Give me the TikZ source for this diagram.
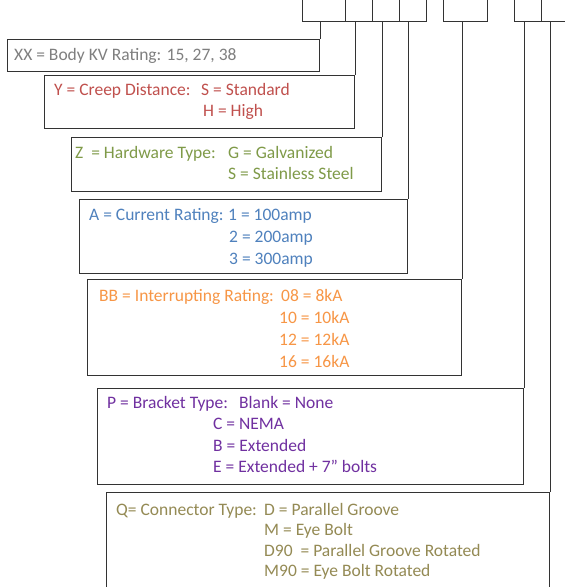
\documentclass[tikz,border=0pt]{standalone}
\usepackage{fontspec}
\setmainfont{Carlito}
\definecolor{linec}{HTML}{333333}
\definecolor{cxx}{HTML}{7F7F7F}
\definecolor{cy}{HTML}{C0504D}
\definecolor{cz}{HTML}{7F9A48}
\definecolor{ca}{HTML}{4F81BD}
\definecolor{cbb}{HTML}{F79646}
\definecolor{cp}{HTML}{7030A0}
\definecolor{cq}{HTML}{948A54}
\tikzset{
  topbox/.style={draw=linec, line width=1.3pt, rectangle, inner sep=0pt, anchor=south west, minimum height=40},
  descbox/.style={draw=linec, line width=1.3pt, rectangle, inner sep=0pt, anchor=north west},
  conn/.style={draw=linec, line width=1.3pt},
  lbl/.style={anchor=base west, inner sep=0pt, font=\fontsize{17.5}{21}\selectfont},
}
\begin{document}
\begin{tikzpicture}[x=1pt,y=-1pt]
\useasboundingbox (0,0) rectangle (565,587);
\clip (0,0) rectangle (565,587);
\fill[white] (0,0) rectangle (565,587);
% top code boxes
\node[topbox, minimum width=43] (b1) at (302,22) {};
\node[topbox, minimum width=27] (b2) at (345,22) {};
\node[topbox, minimum width=27] (b3) at (372,22) {};
\node[topbox, minimum width=27] (b4) at (399,22) {};
\node[topbox, minimum width=44] (b5) at (443,22) {};
\node[topbox, minimum width=27] (b6) at (514,22) {};
\node[topbox, minimum width=30] (b7) at (541,22) {};
% description boxes
\node[descbox, minimum width=312, minimum height=32] (xx) at (7,39) {};
\node[descbox, minimum width=310, minimum height=53] (y) at (44,75) {};
\node[descbox, minimum width=310, minimum height=54] (z) at (71,137) {};
\node[descbox, minimum width=328, minimum height=74] (a) at (79,199) {};
\node[descbox, minimum width=374, minimum height=96] (bb) at (87,279) {};
\node[descbox, minimum width=426, minimum height=96] (p) at (97,388) {};
\node[descbox, minimum width=443, minimum height=110] (q) at (106,492) {};
% connectors
\draw[conn] (b1.south -| xx.east) -- (xx.north east);
\draw[conn] (b2.south -| y.east) -- (y.north east);
\draw[conn] (b3.south -| z.east) -- (z.north east);
\draw[conn] (b4.south -| a.east) -- (a.north east);
\draw[conn] (b5.south -| bb.east) -- (bb.north east);
\draw[conn] (b6.south -| p.east) -- (p.north east);
\draw[conn] (b7.south -| q.east) -- (q.north east);
% texts
\node[lbl, text=cxx] (txx) at (14,60) {XX = Body KV Rating: 15, 27, 38};
\node[lbl, text=cy] (ty1) at (54,95) {Y = Creep Distance:};
\node[lbl, text=cy] (ty2) at (201,95) {S = Standard};
\node[lbl, text=cy] (ty3) at (203,116) {H = High};
\node[lbl, text=cz] (tz1) at (75,158) {Z\ \ = Hardware Type:};
\node[lbl, text=cz] (tz2) at (228,158) {G = Galvanized};
\node[lbl, text=cz] (tz3) at (228,179) {S = Stainless Steel};
\node[lbl, text=ca] (ta1) at (89,220) {A = Current Rating:};
\node[lbl, text=ca] (ta2) at (228,220) {1 = 100amp};
\node[lbl, text=ca] (ta3) at (229,242) {2 = 200amp};
\node[lbl, text=ca] (ta4) at (229,264) {3 = 300amp};
\node[lbl, text=cbb] (tb1) at (99,301) {BB = Interrupting Rating:};
\node[lbl, text=cbb] (tb2) at (281,301) {08 = 8kA};
\node[lbl, text=cbb] (tb3) at (279,323) {10 = 10kA};
\node[lbl, text=cbb] (tb4) at (279,345) {12 = 12kA};
\node[lbl, text=cbb] (tb5) at (279,367) {16 = 16kA};
\node[lbl, text=cp] (tp1) at (107,408) {P = Bracket Type:};
\node[lbl, text=cp] (tp2) at (239,408) {Blank = None};
\node[lbl, text=cp] (tp3) at (213,429) {C = NEMA};
\node[lbl, text=cp] (tp4) at (213,451) {B = Extended};
\node[lbl, text=cp] (tp5) at (213,472) {E = Extended + 7” bolts};
\node[lbl, text=cq] (tq1) at (116,515) {Q= Connector Type:};
\node[lbl, text=cq] (tq2) at (264,515) {D = Parallel Groove};
\node[lbl, text=cq] (tq3) at (264,535) {M = Eye Bolt};
\node[lbl, text=cq] (tq4) at (264,556) {D90\ \ = Parallel Groove Rotated};
\node[lbl, text=cq] (tq5) at (264,576) {M90 = Eye Bolt Rotated};
\end{tikzpicture}
\end{document}
